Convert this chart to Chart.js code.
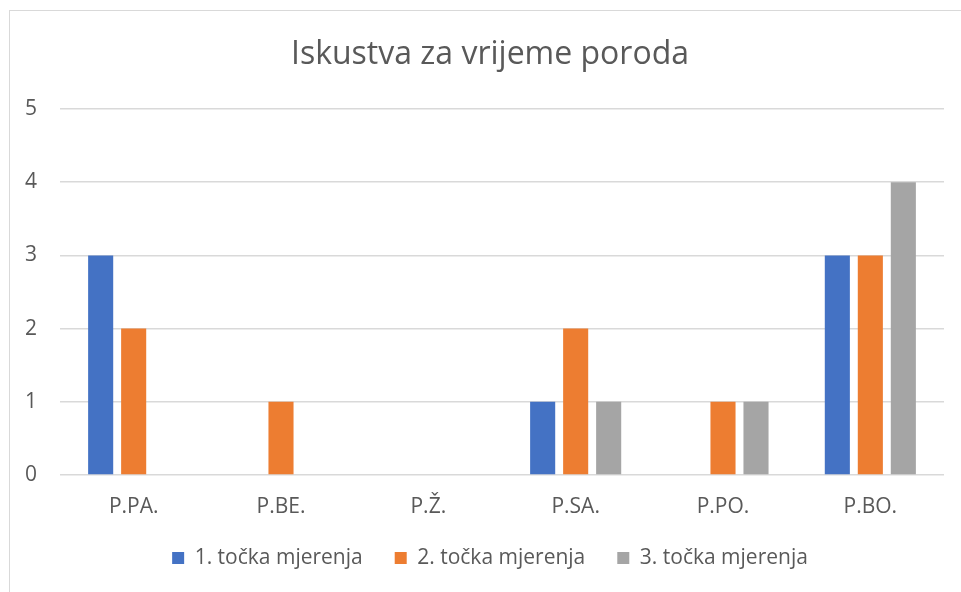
<!DOCTYPE html>
<html>
<head>
<meta charset="utf-8">
<script src="https://cdn.jsdelivr.net/npm/chart.js@4/dist/chart.umd.min.js"></script>
<style>
  html, body { margin: 0; padding: 0; background: #fff; overflow: hidden; }
  #wrap { position: relative; width: 961px; height: 592px; }
  #frame { position: absolute; left: 9px; top: 10px; width: 1000px; height: 1000px; border: 1px solid #d9d9d9; box-sizing: border-box; }
  canvas { position: absolute; left: 0; top: 0; }
</style>
</head>
<body>
<div id="wrap">
  <div id="frame"></div>
  <canvas id="chart" width="961" height="592"></canvas>
</div>
<script>
const categories = ['P.PA.', 'P.BE.', 'P.Ž.', 'P.SA.', 'P.PO.', 'P.BO.'];
const seriesNames = ['1. točka mjerenja', '2. točka mjerenja', '3. točka mjerenja'];
const point1 = [3, 0, 0, 1, 0, 3];
const point2 = [2, 1, 0, 2, 1, 3];
const point3 = [0, 0, 0, 1, 1, 4];
const yTicks = [0, 1, 2, 3, 4, 5];

const colors = ['#4472c4', '#ed7d31', '#a5a5a5'];
const textColor = '#595959';
const fontFamily = '"Open Sans", "Noto Sans", sans-serif';

const ctx = document.getElementById('chart').getContext('2d');
const chart = new Chart(ctx, {
  type: 'bar',
  data: {
    labels: categories,
    datasets: [point1, point2, point3].map((values, i) => ({
      label: seriesNames[i],
      data: values,
      backgroundColor: colors[i],
      borderWidth: 0,
      categoryPercentage: 0.672,
      barPercentage: 0.76
    }))
  },
  options: {
    responsive: false,
    animation: false,
    // left padding keeps title/legend centred on the frame, y axis fills the rest
    layout: { padding: { left: 36, right: 17, top: 0, bottom: 13.5 } },
    plugins: {
      title: {
        display: true,
        text: 'Iskustva za vrijeme poroda',
        color: textColor,
        font: { family: fontFamily, size: 32, weight: 'normal' },
        padding: { top: 35.8, bottom: 34.8 }
      },
      legend: {
        position: 'bottom',
        labels: {
          color: textColor,
          font: { family: fontFamily, size: 21 },
          boxWidth: 12,
          boxHeight: 12,
          padding: 32
        }
      },
      tooltip: { enabled: false }
    },
    scales: {
      x: {
        grid: { display: false, drawTicks: false },
        border: { display: false },
        ticks: { color: textColor, font: { family: fontFamily, size: 21 }, padding: 19, maxRotation: 0 },
        afterFit: (scale) => { scale.height = 40.5; }
      },
      y: {
        min: 0,
        max: 5,
        afterBuildTicks: (scale) => { scale.ticks = yTicks.map(v => ({ value: v })); },
        grid: { color: '#d9d9d9', lineWidth: 1.5, drawTicks: false },
        border: { display: false },
        // mirrored labels are not clipped to the (narrow) axis box
        ticks: { color: textColor, font: { family: fontFamily, size: 21 }, mirror: true, crossAlign: 'far', padding: -35 },
        afterFit: (scale) => { scale.width = 24; }
      }
    }
  }
});
</script>
</body>
</html>
